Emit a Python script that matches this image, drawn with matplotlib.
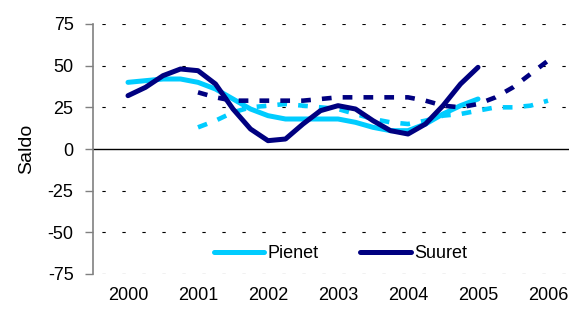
import numpy as np
import matplotlib
matplotlib.use("Agg")
import matplotlib.pyplot as plt

# quarterly balance figures (solid = realised, dashed = expectations)
years = [2000, 2001, 2002, 2003, 2004, 2005, 2006]

pienet = [40, 41, 42, 42, 40, 36, 30, 24, 20, 18, 18, 18, 18,
          16, 13, 11, 11, 15, 21, 26, 30]
suuret = [32, 37, 44, 48, 47, 39, 24, 12, 5, 6, 15, 23, 26,
          24, 17, 11, 9, 15, 26, 39, 49]

pienet_odotus = [13, 17, 22, 25, 26, 27, 26, 25, 24, 21, 18, 16, 15,
                 17, 20, 21, 23, 25, 25, 26, 29]
suuret_odotus = [34, 31, 29, 29, 29, 29, 29, 30, 31, 31, 31, 31, 31,
                 29, 26, 25, 27, 31, 37, 45, 53]

x_real = np.arange(len(pienet)) / 4 + 2000
x_odotus = np.arange(len(pienet_odotus)) / 4 + 2001

light = "#00CCFF"
dark = "#000080"

plt.rcParams["font.family"] = ["Liberation Sans", "DejaVu Sans"]
plt.rcParams["font.size"] = 13
plt.rcParams["lines.scale_dashes"] = False
plt.rcParams["axes.unicode_minus"] = False

fig = plt.figure(figsize=(5.69, 3.2), dpi=100)
ax = fig.add_axes([93 / 569, 1 - 274 / 320, 1 - 93 / 569, 250 / 320])

for v in [-75, -50, -25, 25, 50, 75]:
    ax.axhline(v, color="black", lw=0.8, linestyle=(8, (2.4, 12)), zorder=1)
ax.axhline(0, color="black", lw=1.0, zorder=1)

ax.plot(x_real, pienet, color=light, lw=3.6, label="Pienet", zorder=3,
        solid_capstyle="round")
ax.plot(x_odotus, pienet_odotus, color=light, lw=3.3, linestyle=(0, (7, 8)),
        zorder=4)
ax.plot(x_real, suuret, color=dark, lw=3.6, label="Suuret", zorder=5,
        solid_capstyle="round")
ax.plot(x_odotus, suuret_odotus, color=dark, lw=3.3, linestyle=(0, (7, 8)),
        zorder=6)

ax.set_xlim(1999.5, 2006.3)
ax.set_ylim(-75, 75)
ax.set_yticks([-75, -50, -25, 0, 25, 50, 75])
ax.set_xticks(years)
ax.set_xticklabels([str(y) for y in years])
ax.tick_params(axis="x", length=0, pad=9)
ax.tick_params(axis="y", length=6, width=1, color="#808080", pad=8)
ax.set_ylabel("Saldo", fontsize=14, labelpad=9)

for s in ["top", "right", "bottom"]:
    ax.spines[s].set_visible(False)
ax.spines["left"].set_color("#808080")
ax.spines["left"].set_linewidth(1.2)

ax.legend(loc="center", bbox_to_anchor=(0.52, 0.08), ncol=2, frameon=False,
          handlelength=2.8, handletextpad=0.2, columnspacing=2.3)

fig.savefig("out.png", dpi=100)
